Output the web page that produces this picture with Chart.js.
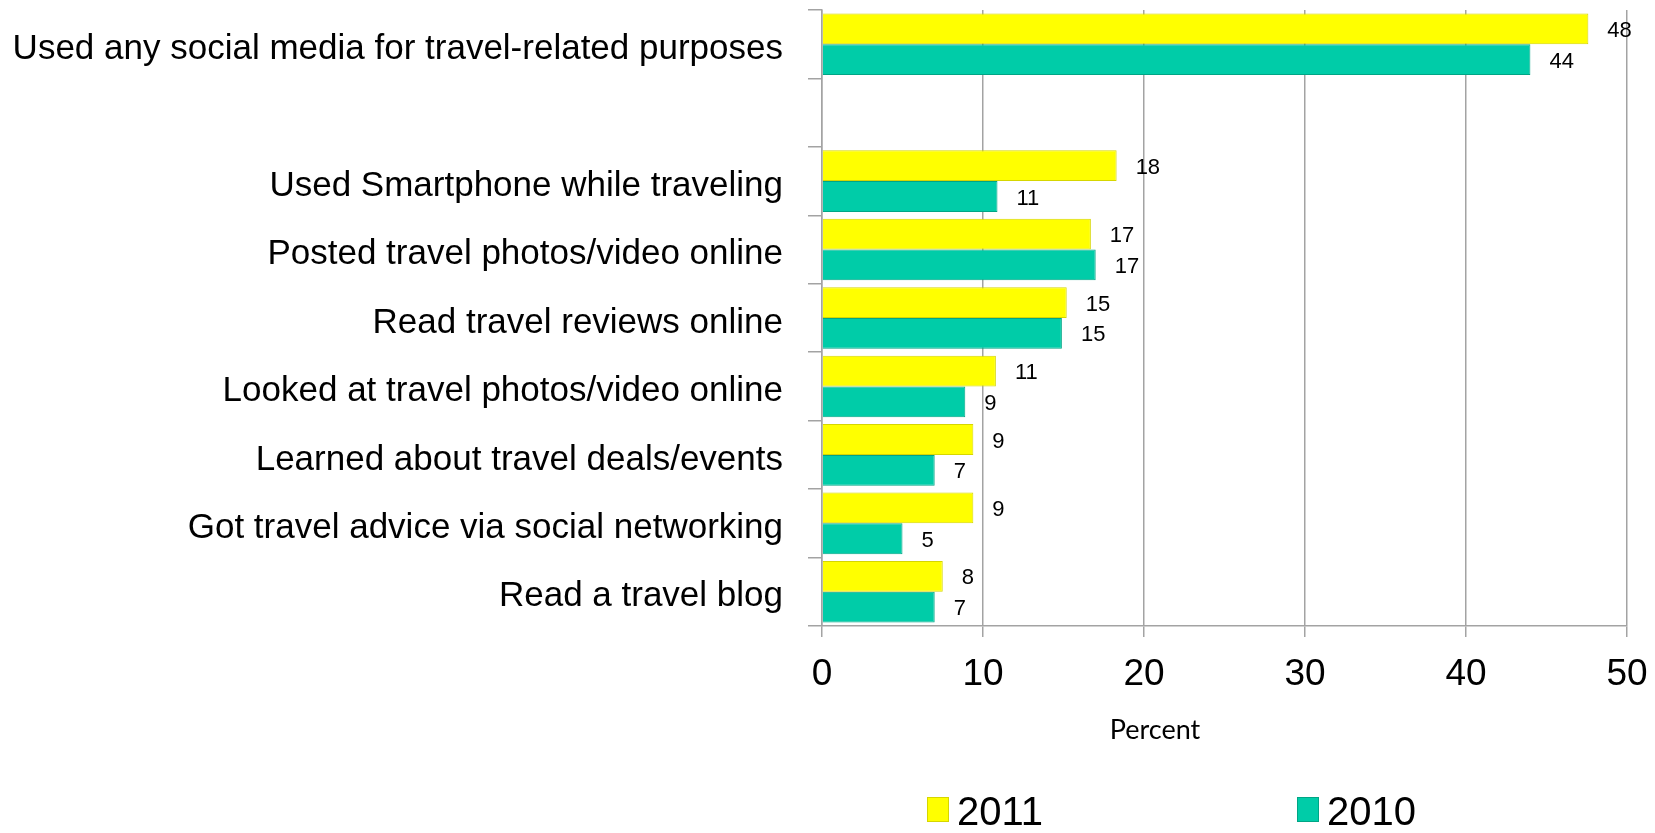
<!DOCTYPE html>
<html><head><meta charset="utf-8">
<script src="https://cdn.jsdelivr.net/npm/chart.js@4"></script>
<style>html,body{margin:0;padding:0;background:#fff;overflow:hidden}#wrap{width:1655px;height:833px;position:relative}</style>
</head><body><div id="wrap"><canvas id="c" width="1655" height="833"></canvas></div>
<script>
const categories = [
  'Used any social media for travel-related purposes',
  '',
  'Used Smartphone while traveling',
  'Posted travel photos/video online',
  'Read travel reviews online',
  'Looked at travel photos/video online',
  'Learned about travel deals/events',
  'Got travel advice via social networking',
  'Read a travel blog'
];
const seriesNames = ['2011', '2010'];
const values2011 = [47.6, null, 18.3, 16.7, 15.2, 10.8, 9.4, 9.4, 7.5];
const values2010 = [44.0, null, 10.9, 17.0, 14.9, 8.9, 7.0, 5.0, 7.0];
const labels2011 = [48, null, 18, 17, 15, 11, 9, 9, 8];
const labels2010 = [44, null, 11, 17, 15, 9, 7, 5, 7];
const xTicks = [0, 10, 20, 30, 40, 50];
const xTitle = 'Percent';

const colors = [
  {fill: '#ffff00', border: '#d6d600'},
  {fill: '#00cca8', border: '#00a585'}
];
const GRID = '#a3a3a3';

const valueLabels = {
  id: 'valueLabels',
  afterDatasetsDraw(chart) {
    const ctx = chart.ctx;
    ctx.save();
    ctx.font = '22px "Liberation Sans", Arial';
    ctx.fillStyle = '#000';
    ctx.textAlign = 'left';
    ctx.textBaseline = 'middle';
    [labels2011, labels2010].forEach((labs, di) => {
      const meta = chart.getDatasetMeta(di);
      meta.data.forEach((bar, i) => {
        if (labs[i] == null) return;
        ctx.fillText(String(labs[i]), bar.x + 19, bar.y + 2);
      });
    });
    ctx.restore();
  }
};

const customLegend = {
  id: 'customLegend',
  afterDraw(chart) {
    const ctx = chart.ctx;
    ctx.save();
    const items = [{x: 927}, {x: 1297}];
    ctx.font = '40px "Liberation Sans", Arial';
    ctx.textAlign = 'left';
    ctx.textBaseline = 'middle';
    items.forEach((it, i) => {
      const c = colors[i];
      ctx.fillStyle = c.fill;
      ctx.fillRect(it.x, 797, 22, 25);
      ctx.strokeStyle = c.border;
      ctx.lineWidth = 1;
      ctx.strokeRect(it.x + 0.5, 797.5, 21, 24);
      ctx.fillStyle = '#000';
      ctx.fillText(seriesNames[i], it.x + 30, 814);
    });
    ctx.restore();
  }
};

const axisTitle = {
  id: 'axisTitle',
  afterDraw(chart) {
    const ctx = chart.ctx;
    ctx.save();
    ctx.font = '27px Lato, "Open Sans", sans-serif';
    ctx.fillStyle = '#000';
    ctx.textAlign = 'center';
    ctx.textBaseline = 'middle';
    ctx.fillText(xTitle, 1155, 730);
    ctx.restore();
  }
};

new Chart(document.getElementById('c'), {
  type: 'bar',
  data: {
    labels: categories,
    datasets: [
      {label: seriesNames[0], data: values2011, backgroundColor: colors[0].fill, borderColor: colors[0].border, borderWidth: 1, categoryPercentage: 0.9, barPercentage: 1},
      {label: seriesNames[1], data: values2010, backgroundColor: colors[1].fill, borderColor: colors[1].border, borderWidth: 1, categoryPercentage: 0.9, barPercentage: 1}
    ]
  },
  options: {
    indexAxis: 'y',
    responsive: false,
    devicePixelRatio: 1,
    animation: false,
    layout: {padding: {top: 10, right: 28, bottom: 0, left: 0}},
    plugins: {
      legend: {display: false},
      tooltip: {enabled: false}
    },
    scales: {
      x: {
        type: 'linear', min: xTicks[0], max: xTicks[xTicks.length - 1],
        afterBuildTicks(s) { s.ticks = xTicks.map(v => ({value: v})); },
        afterFit(s) { s.height = 207; s.paddingLeft = 0; s.paddingRight = 0; },
        ticks: {color: '#000', font: {family: '"Liberation Sans", Arial', size: 37}, padding: 16},
        grid: {color: GRID, lineWidth: 1.5, tickLength: 11, drawTicks: true},
        border: {display: true, color: GRID, width: 1.5}
      },
      y: {
        type: 'category',
        afterFit(s) { s.width = 822; s.paddingTop = 0; s.paddingBottom = 0; },
        ticks: {color: '#000', font: {family: '"Liberation Sans", Arial', size: 35}, padding: 25, autoSkip: false, labelOffset: 5},
        grid: {color: GRID, lineWidth: 1.5, tickLength: 14, drawOnChartArea: false, drawTicks: true, offset: true},
        border: {display: true, color: GRID, width: 1.5}
      }
    }
  },
  plugins: [valueLabels, customLegend, axisTitle]
});
</script></body></html>
